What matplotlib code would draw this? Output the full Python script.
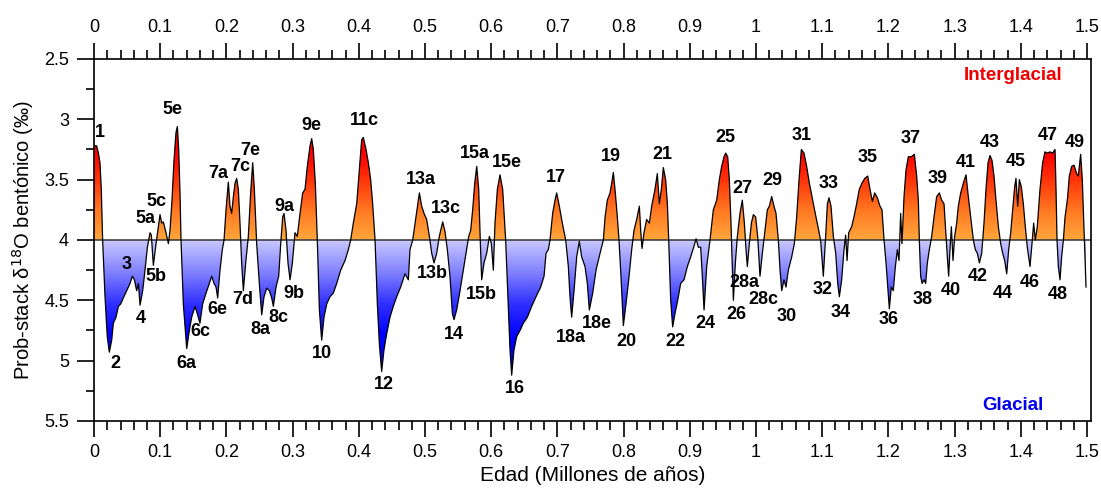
import numpy as np
import matplotlib
matplotlib.use("Agg")
from matplotlib import pyplot as plt
from matplotlib.colors import LinearSegmentedColormap
from matplotlib.path import Path

###################### DATA
age = [0.000, 0.004, 0.0066, 0.009, 0.011, 0.013, 0.0166, 0.020, 0.0231, 0.0267,
       0.0292, 0.0332, 0.0368, 0.0403, 0.0443, 0.0493, 0.0544, 0.0579, 0.061, 0.0644,
       0.067, 0.0695, 0.0735, 0.077, 0.0806, 0.0846, 0.0866, 0.0896, 0.0937, 0.0997,
       0.1022, 0.1047, 0.1083, 0.1123, 0.1148, 0.1178, 0.1208, 0.1238, 0.1259, 0.1279,
       0.1299, 0.1314, 0.1349, 0.140, 0.144, 0.1475, 0.1526, 0.156, 0.160, 0.1641,
       0.1692, 0.1742, 0.1777, 0.1813, 0.1843, 0.1868, 0.1903, 0.1938, 0.1964, 0.1994,
       0.2029, 0.2054, 0.2079, 0.2105, 0.213, 0.2155, 0.218, 0.2205, 0.223, 0.2256,
       0.2291, 0.2331, 0.2366, 0.2397, 0.2422, 0.2457, 0.2497, 0.2533, 0.2568, 0.2608,
       0.2649, 0.2684, 0.2709, 0.2749, 0.279, 0.282, 0.285, 0.287, 0.290, 0.293,
       0.2961, 0.2996, 0.3036, 0.3071, 0.3112, 0.3152, 0.3187, 0.3222, 0.3263, 0.3288,
       0.3313, 0.3343, 0.3373, 0.3404, 0.3439, 0.3474, 0.3515, 0.3565, 0.3615, 0.3666,
       0.3726, 0.3792, 0.3842, 0.3877, 0.3917, 0.3968, 0.4008, 0.4043, 0.4068, 0.4109,
       0.4144, 0.4179, 0.4209, 0.4245, 0.428, 0.431, 0.4345, 0.438, 0.442, 0.4471,
       0.4521, 0.4572, 0.4632, 0.4698, 0.4748, 0.4773, 0.4814, 0.4864, 0.4915, 0.495,
       0.4985, 0.5025, 0.5066, 0.5101, 0.5136, 0.5176, 0.5216, 0.5267, 0.5302, 0.5337,
       0.5377, 0.5413, 0.5438, 0.5478, 0.5529, 0.5579, 0.563, 0.566, 0.569, 0.572,
       0.5751, 0.5781, 0.5811, 0.5836, 0.5856, 0.5891, 0.5932, 0.5972, 0.6002, 0.6032,
       0.6057, 0.6093, 0.6133, 0.6173, 0.6218, 0.6259, 0.6284, 0.6309, 0.6344, 0.6385,
       0.6435, 0.6485, 0.6546, 0.6611, 0.6677, 0.6747, 0.6798, 0.6828, 0.6863, 0.6888,
       0.6928, 0.6964, 0.6989, 0.7029, 0.7074, 0.7125, 0.7165, 0.719, 0.7215, 0.7251,
       0.7291, 0.7331, 0.7366, 0.7417, 0.7452, 0.7482, 0.7533, 0.7583, 0.7644, 0.7694,
       0.772, 0.7754, 0.7795, 0.782, 0.7845, 0.7875, 0.7905, 0.793, 0.796, 0.7996,
       0.8036, 0.8077, 0.8122, 0.8157, 0.8197, 0.8238, 0.8258, 0.8278, 0.8308, 0.8348,
       0.8389, 0.8424, 0.8474, 0.8509, 0.854, 0.857, 0.860, 0.8635, 0.8661, 0.8681,
       0.8711, 0.8741, 0.8776, 0.8817, 0.8862, 0.8912, 0.8963, 0.9013, 0.9053, 0.9094,
       0.9129, 0.9164, 0.9189, 0.9215, 0.9255, 0.9305, 0.9355, 0.9406, 0.9446, 0.9481,
       0.9517, 0.9542, 0.9572, 0.9597, 0.9622, 0.9637, 0.9658, 0.9688, 0.9718, 0.9758,
       0.9793, 0.9824, 0.9849, 0.9869, 0.9899, 0.993, 0.996, 0.9995, 1.0025, 1.006,
       1.0096, 1.0136, 1.0171, 1.0201, 1.0237, 1.0272, 1.0302, 1.0337, 1.0363, 1.0388,
       1.0423, 1.0453, 1.0488, 1.0539, 1.0579, 1.0614, 1.065, 1.0685, 1.0725, 1.0765,
       1.0806, 1.0856, 1.0906, 1.0947, 1.0977, 1.1017, 1.1052, 1.1078, 1.1103, 1.1133,
       1.1168, 1.1204, 1.1234, 1.1259, 1.1294, 1.1329, 1.1354, 1.1375, 1.140, 1.1445,
       1.148, 1.152, 1.156, 1.160, 1.1642, 1.1687, 1.1722, 1.1758, 1.1793, 1.1833,
       1.1873, 1.1903, 1.1934, 1.1964, 1.1994, 1.2014, 1.2044, 1.2074, 1.2105, 1.2135,
       1.216, 1.2185, 1.2205, 1.2236, 1.2266, 1.2301, 1.2347, 1.2392, 1.2427, 1.2452,
       1.2467, 1.2487, 1.2508, 1.2538, 1.2563, 1.2588, 1.2618, 1.2654, 1.2689, 1.2729,
       1.2769, 1.2805, 1.284, 1.2865, 1.289, 1.291, 1.293, 1.2951, 1.2976, 1.3001,
       1.3031, 1.3056, 1.3092, 1.3132, 1.3172, 1.3207, 1.3243, 1.3283, 1.3313, 1.3343,
       1.3374, 1.3409, 1.3444, 1.3474, 1.3505, 1.3535, 1.3565, 1.3595, 1.3625, 1.3661,
       1.3696, 1.3726, 1.3756, 1.3787, 1.3817, 1.3847, 1.3877, 1.3907, 1.3927, 1.3953,
       1.3978, 1.4008, 1.4038, 1.4068, 1.4098, 1.4139, 1.4169, 1.4194, 1.4219, 1.4249,
       1.429, 1.433, 1.4365, 1.440, 1.4441, 1.4481, 1.4517, 1.4532, 1.4547, 1.4567,
       1.4592, 1.4617, 1.4643, 1.4668, 1.4703, 1.4733, 1.4768, 1.4804, 1.4844, 1.4869,
       1.4904, 1.4929, 1.4955, 1.497, 1.4985]

d18o = [3.22, 3.22, 3.28, 3.36, 3.58, 4.00, 4.47, 4.80, 4.93, 4.83,
        4.69, 4.64, 4.55, 4.53, 4.48, 4.42, 4.36, 4.30, 4.33, 4.42,
        4.36, 4.54, 4.42, 4.25, 4.06, 3.94, 3.96, 4.21, 4.03, 3.79,
        3.86, 3.85, 3.93, 4.03, 3.92, 3.67, 3.34, 3.11, 3.06, 3.25,
        3.61, 4.00, 4.53, 4.90, 4.75, 4.64, 4.55, 4.61, 4.69, 4.53,
        4.44, 4.36, 4.30, 4.36, 4.39, 4.48, 4.25, 4.08, 4.00, 3.75,
        3.52, 3.72, 3.78, 3.64, 3.53, 3.49, 3.58, 3.86, 4.19, 4.42,
        4.19, 3.97, 3.61, 3.36, 3.58, 4.03, 4.36, 4.62, 4.47, 4.40,
        4.42, 4.48, 4.55, 4.39, 4.30, 4.03, 3.81, 3.78, 3.92, 4.19,
        4.33, 4.19, 3.94, 3.97, 3.78, 3.61, 3.58, 3.39, 3.22, 3.16,
        3.25, 3.53, 4.00, 4.58, 4.83, 4.64, 4.53, 4.47, 4.44, 4.36,
        4.25, 4.17, 4.08, 4.00, 3.86, 3.70, 3.42, 3.17, 3.15, 3.25,
        3.36, 3.50, 3.70, 4.00, 4.53, 4.86, 5.09, 4.91, 4.78, 4.64,
        4.55, 4.47, 4.39, 4.28, 4.33, 4.08, 4.00, 3.81, 3.61, 3.72,
        3.78, 3.83, 3.97, 4.11, 4.19, 4.11, 3.97, 3.85, 3.93, 4.08,
        4.30, 4.61, 4.66, 4.58, 4.42, 4.25, 4.08, 3.97, 3.92, 3.75,
        3.53, 3.39, 3.58, 4.03, 4.33, 4.19, 4.11, 3.97, 4.03, 4.25,
        3.86, 3.58, 3.46, 3.58, 4.00, 4.58, 4.91, 5.12, 4.91, 4.80,
        4.75, 4.69, 4.64, 4.55, 4.47, 4.39, 4.30, 4.11, 4.08, 4.00,
        3.78, 3.67, 3.61, 3.72, 3.86, 4.00, 4.22, 4.47, 4.64, 4.42,
        4.14, 4.01, 4.14, 4.22, 4.36, 4.58, 4.44, 4.25, 4.11, 4.00,
        3.81, 3.67, 3.61, 3.53, 3.44, 3.61, 3.81, 4.00, 4.30, 4.71,
        4.53, 4.33, 4.08, 3.92, 3.83, 3.72, 3.92, 4.07, 3.94, 3.83,
        3.86, 3.72, 3.58, 3.45, 3.70, 3.58, 3.40, 3.50, 3.70, 4.00,
        4.50, 4.72, 4.61, 4.50, 4.36, 4.33, 4.22, 4.14, 4.07, 3.99,
        4.06, 4.06, 4.30, 4.58, 4.22, 4.00, 3.75, 3.67, 3.50, 3.39,
        3.31, 3.28, 3.31, 3.50, 3.86, 4.14, 4.50, 4.19, 3.97, 3.78,
        3.67, 3.86, 4.08, 4.22, 4.03, 3.86, 3.79, 3.81, 3.97, 4.30,
        4.11, 3.92, 3.75, 3.72, 3.64, 3.72, 3.78, 4.00, 4.25, 4.42,
        4.33, 4.39, 4.25, 4.14, 4.03, 3.81, 3.50, 3.25, 3.28, 3.39,
        3.53, 3.67, 3.81, 3.92, 4.01, 4.30, 3.97, 3.70, 3.65, 3.72,
        3.97, 4.11, 4.36, 4.47, 4.33, 4.08, 3.96, 4.17, 3.94, 3.89,
        3.81, 3.70, 3.58, 3.53, 3.49, 3.47, 3.58, 3.68, 3.61, 3.65,
        3.72, 3.75, 4.00, 4.19, 4.42, 4.57, 4.39, 4.42, 4.22, 4.08,
        4.17, 3.78, 4.03, 3.64, 3.42, 3.31, 3.31, 3.29, 3.47, 3.67,
        4.00, 4.30, 4.36, 4.33, 4.36, 4.19, 4.08, 3.97, 3.81, 3.64,
        3.61, 3.67, 3.70, 3.92, 4.14, 4.30, 4.08, 3.89, 4.17, 3.97,
        3.86, 3.72, 3.61, 3.53, 3.46, 3.64, 3.81, 4.00, 4.08, 4.11,
        4.19, 4.11, 3.86, 3.58, 3.36, 3.30, 3.34, 3.47, 3.67, 3.89,
        4.03, 4.11, 4.17, 4.28, 4.08, 3.94, 3.75, 3.56, 3.49, 3.72,
        3.50, 3.56, 3.70, 3.89, 4.06, 4.22, 4.03, 3.86, 4.00, 3.89,
        3.58, 3.36, 3.27, 3.28, 3.27, 3.28, 3.25, 3.58, 4.00, 4.22,
        4.33, 4.14, 4.00, 3.81, 3.67, 3.47, 3.39, 3.38, 3.45, 3.47,
        3.29, 3.50, 3.92, 4.14, 4.39]

# Marine isotope stage labels: (text, age, d18O position of the label)
mis_labels = [("1", 0.009, 3.11), ("2", 0.032, 5.02), ("3", 0.050, 4.20),
              ("4", 0.071, 4.65), ("5a", 0.077, 3.82), ("5b", 0.094, 4.30),
              ("5c", 0.095, 3.68), ("5e", 0.119, 2.92), ("6a", 0.140, 5.02),
              ("6c", 0.160, 4.76), ("6e", 0.186, 4.58), ("7a", 0.187, 3.45),
              ("7c", 0.221, 3.39), ("7e", 0.236, 3.26), ("7d", 0.224, 4.49),
              ("8a", 0.252, 4.74), ("8c", 0.278, 4.64), ("9a", 0.287, 3.72),
              ("9b", 0.302, 4.44), ("9e", 0.328, 3.05), ("10", 0.344, 4.94),
              ("11c", 0.409, 3.01), ("12", 0.438, 5.20), ("13a", 0.494, 3.50),
              ("13c", 0.532, 3.74), ("13b", 0.511, 4.28), ("14", 0.544, 4.78),
              ("15a", 0.576, 3.28), ("15e", 0.624, 3.36), ("15b", 0.585, 4.45),
              ("16", 0.636, 5.23), ("17", 0.698, 3.48), ("18a", 0.720, 4.81),
              ("18e", 0.760, 4.69), ("19", 0.781, 3.31), ("20", 0.804, 4.84),
              ("21", 0.858, 3.29), ("22", 0.878, 4.84), ("24", 0.924, 4.69),
              ("25", 0.953, 3.15), ("26", 0.970, 4.62), ("27", 0.979, 3.57),
              ("28a", 0.982, 4.35), ("28c", 1.011, 4.49), ("29", 1.024, 3.51),
              ("30", 1.047, 4.63), ("31", 1.069, 3.13), ("32", 1.100, 4.41),
              ("33", 1.109, 3.53), ("34", 1.128, 4.60), ("35", 1.169, 3.32),
              ("36", 1.201, 4.66), ("37", 1.233, 3.16), ("38", 1.252, 4.49),
              ("39", 1.275, 3.49), ("40", 1.295, 4.42), ("41", 1.317, 3.36),
              ("42", 1.335, 4.30), ("43", 1.353, 3.19), ("44", 1.373, 4.44),
              ("45", 1.393, 3.35), ("46", 1.414, 4.35), ("47", 1.441, 3.13),
              ("48", 1.456, 4.45), ("49", 1.482, 3.19)]

x_ticks = [0, 0.1, 0.2, 0.3, 0.4, 0.5, 0.6, 0.7, 0.8, 0.9, 1.0, 1.1, 1.2, 1.3, 1.4, 1.5]
x_ticklabels = ["0", "0.1", "0.2", "0.3", "0.4", "0.5", "0.6", "0.7", "0.8", "0.9",
                "1", "1.1", "1.2", "1.3", "1.4", "1.5"]
y_ticks = [2.5, 3.0, 3.5, 4.0, 4.5, 5.0, 5.5]
y_ticklabels = ["2.5", "3", "3.5", "4", "4.5", "5", "5.5"]
baseline = 4.0
########################

age = np.array(age)
d18o = np.array(d18o)

narrow = ['Liberation Sans Narrow', 'Liberation Sans', 'DejaVu Sans']
bold_font = ['Liberation Sans', 'DejaVu Sans']

fig = plt.figure(figsize=(11.01, 4.94), dpi=100)
ax = fig.add_axes([0.0854, 0.1478, 0.9055, 0.7328])

# gradient fills clipped to the areas above / below the 4 permil line
warm = LinearSegmentedColormap.from_list("warm", ["#ffa63c", "#ff7a22", "#ff3a0c", "#ff0000", "#ee0000"])
cold = LinearSegmentedColormap.from_list("cold", ["#c8c8ff", "#8282ff", "#3030ff", "#0000ff", "#0000ee"])

fb_warm = ax.fill_between(age, d18o, baseline, where=d18o <= baseline, interpolate=True,
                          facecolor='none', edgecolor='none')
fb_cold = ax.fill_between(age, d18o, baseline, where=d18o >= baseline, interpolate=True,
                          facecolor='none', edgecolor='none')

grad = np.linspace(0, 1, 256).reshape(-1, 1)
im_w = ax.imshow(grad, cmap=warm, aspect='auto', origin='lower',
                 extent=(0, 1.506, baseline, 3.05), zorder=1)
im_c = ax.imshow(grad, cmap=cold, aspect='auto', origin='lower',
                 extent=(0, 1.506, baseline, 5.05), zorder=1)
im_w.set_clip_path(Path.make_compound_path(*fb_warm.get_paths()), transform=ax.transData)
im_c.set_clip_path(Path.make_compound_path(*fb_cold.get_paths()), transform=ax.transData)
ax.set_xlim(0, 1.506)
ax.set_ylim(5.5, 2.5)

ax.plot(age, d18o, color='black', lw=0.9, zorder=3)
ax.axhline(baseline, color='#333333', lw=1.1, zorder=2)

for txt, x, y in mis_labels:
    ax.text(x, y, txt, ha='center', va='center', fontsize=13, fontweight='bold',
            family=bold_font, zorder=4)

ax.text(1.388, 2.64, "Interglacial", color='#ee0000', ha='center', va='center',
        fontsize=13.5, fontweight='bold', family=bold_font)
ax.text(1.388, 5.37, "Glacial", color='#0000ee', ha='center', va='center',
        fontsize=13.5, fontweight='bold', family=bold_font)

# axes, ticks
ax.set_xticks(x_ticks)
ax.set_xticklabels(x_ticklabels, family=narrow, fontsize=13)
ax.set_xticks(np.arange(0, 1.5001, 0.02), minor=True)
ax.set_yticks(y_ticks)
ax.set_yticklabels(y_ticklabels, family=narrow, fontsize=13)
ax.set_yticks(np.arange(2.5, 5.501, 0.25), minor=True)
ax.tick_params(axis='x', which='both', direction='out', top=True, labeltop=True, width=1.2)
ax.tick_params(axis='x', which='major', length=11.5, pad=5)
ax.tick_params(axis='x', which='minor', length=6.5)
ax.tick_params(axis='y', which='both', direction='out', right=False, width=1.2)
ax.tick_params(axis='y', which='major', length=12, pad=6)
ax.tick_params(axis='y', which='minor', length=6)
for lab in ax.get_xticklabels(which='major'):
    lab.set_family(narrow)
for sp in ax.spines.values():
    sp.set_linewidth(1.2)

ax.set_xlabel("Edad (Millones de años)", family=narrow, fontsize=15, labelpad=4)
ax.set_ylabel("Prob-stack δ$^{18}$O bentónico (‰)", family=narrow, fontsize=14.5, labelpad=6)

fig.savefig("out.png", dpi=100)
